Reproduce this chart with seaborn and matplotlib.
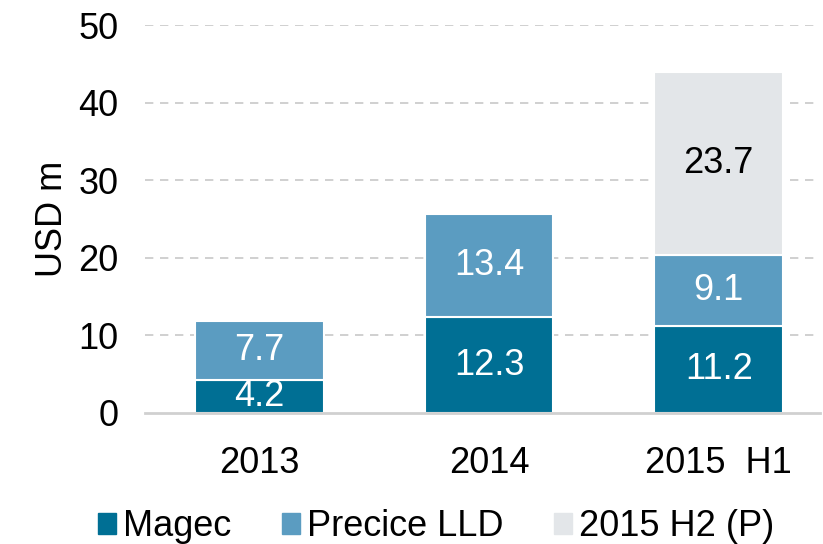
import numpy as np
import pandas as pd
import matplotlib
matplotlib.use('Agg')
import matplotlib.pyplot as plt
import seaborn as sns

years = ['2013', '2014', '2015  H1']
magec = [4.2, 12.3, 11.2]
precice = [7.7, 13.4, 9.1]
h2_proj = [0, 0, 23.7]
series_names = ['Magec', 'Precice LLD', '2015 H2 (P)']
colors = ['#006F94', '#5B9CC1', '#E3E6E9']

sns.set_style('white')
plt.rcParams['font.family'] = ['Liberation Sans', 'DejaVu Sans']
plt.rcParams['text.color'] = 'black'

fig = plt.figure(figsize=(8.23, 5.44), dpi=100)
ax = fig.add_axes([0.176, 0.241, 0.82, 0.713])

df = pd.DataFrame({'year': years, 'Magec': magec, 'Precice': precice, 'H2': h2_proj})
bottom1 = df['Magec']
bottom2 = df['Magec'] + df['Precice']

sns.barplot(data=df, x='year', y='Magec', color=colors[0], width=0.56,
            edgecolor='white', linewidth=1.5, saturation=1, ax=ax)
sns.barplot(data=df, x='year', y='Precice', bottom=bottom1, color=colors[1], width=0.56,
            edgecolor='white', linewidth=1.5, saturation=1, ax=ax)
mask = df['H2'] > 0
sns.barplot(x=np.arange(len(years))[mask], y=df['H2'][mask], bottom=bottom2[mask],
            color=colors[2], width=0.56, edgecolor='white', linewidth=1.5, saturation=1,
            ax=ax, native_scale=True)

# labels in the middle of each segment
for i in range(len(years)):
    ax.text(i, magec[i] / 2, f'{magec[i]:.1f}', ha='center', va='center', color='white', fontsize=26)
    ax.text(i, magec[i] + precice[i] / 2, f'{precice[i]:.1f}', ha='center', va='center',
            color='white', fontsize=26)
    if h2_proj[i] > 0:
        ax.text(i, magec[i] + precice[i] + h2_proj[i] / 2, f'{h2_proj[i]:.1f}', ha='center',
                va='center', color='black', fontsize=26)

ax.set_ylim(0, 50)
ax.set_xlim(-0.5, 2.44)
ax.set_yticks(range(0, 51, 10))
ax.set_xticks(range(len(years)))
ax.set_xticklabels(years)
ax.tick_params(axis='both', labelsize=26, length=0, colors='black')
ax.tick_params(axis='x', pad=24)
ax.tick_params(axis='y', pad=19)
ax.set_xlabel('')
ax.set_ylabel('USD m', fontsize=26, labelpad=6, color='black')
for y in range(10, 51, 10):
    ax.axhline(y, color='#c8c8c8', linestyle=(0, (5, 4)), linewidth=1.2, zorder=0)
ax.set_axisbelow(True)
for s in ['top', 'right', 'left']:
    ax.spines[s].set_visible(False)
ax.spines['bottom'].set_color('#d0d0d0')
ax.spines['bottom'].set_linewidth(2)

handles = [plt.Rectangle((0, 0), 1, 1, color=c) for c in colors]
fig.legend(handles, series_names, loc='lower center', bbox_to_anchor=(0.53, -0.06), ncol=3,
           frameon=False, fontsize=26, handlelength=0.5, handleheight=0.5, handletextpad=0.2,
           columnspacing=1.4)

fig.savefig('out.png', dpi=100)
